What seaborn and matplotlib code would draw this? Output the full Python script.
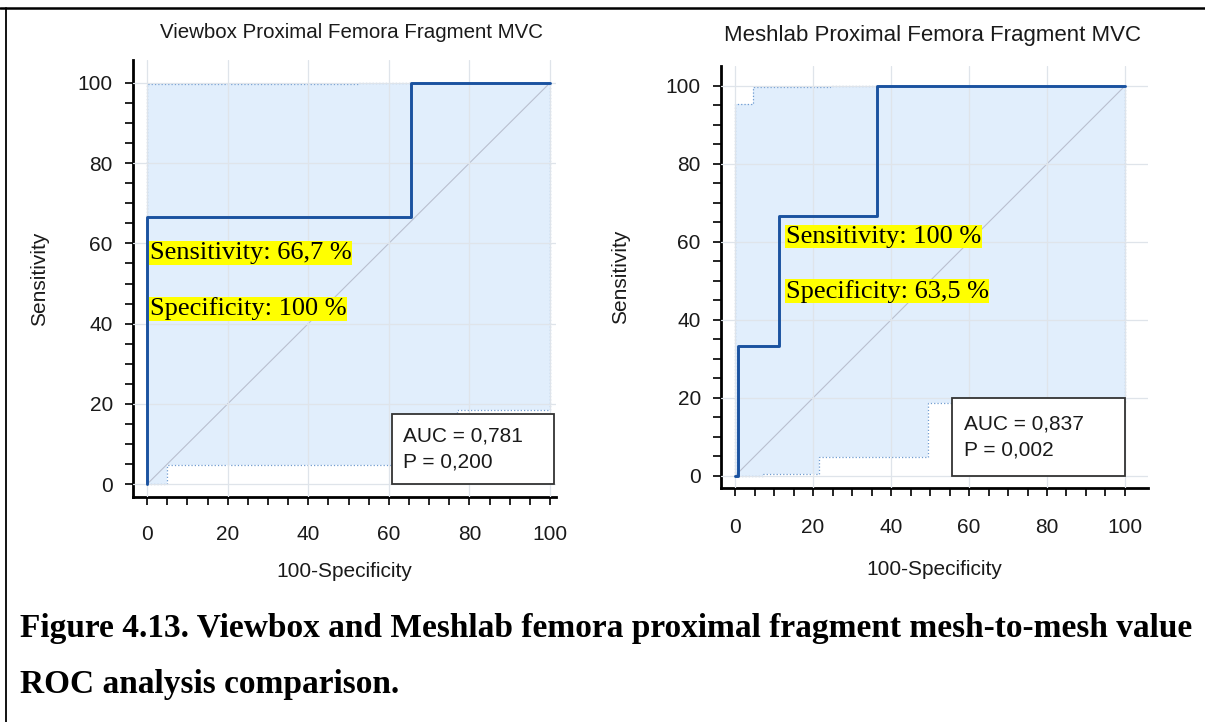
import numpy as np
import pandas as pd
import matplotlib
matplotlib.use("Agg")
import matplotlib.pyplot as plt
from matplotlib.lines import Line2D
from matplotlib.patches import Rectangle
import seaborn as sns

# ---------------- data ----------------
titles = ["Viewbox Proximal Femora Fragment MVC", "Meshlab Proximal Femora Fragment MVC"]

# Viewbox ROC curve (100-Specificity, Sensitivity)
vb_roc_x = [0, 0, 65.5, 65.5, 100]
vb_roc_y = [0, 66.7, 66.7, 100, 100]
# Viewbox confidence band
vb_up_x = [0, 0, 52.5, 52.5, 100]
vb_up_y = [0, 99.7, 99.7, 100, 100]
vb_lo_x = [0, 5, 5, 77, 77, 100, 100]
vb_lo_y = [0, 0, 4.8, 4.8, 18.5, 18.5, 100]

# Meshlab ROC curve
ml_roc_x = [0, 0.8, 0.8, 11.2, 11.2, 36.5, 36.5, 100]
ml_roc_y = [0, 0, 33.3, 33.3, 66.7, 66.7, 100, 100]
# Meshlab confidence band
ml_up_x = [0, 0, 4.6, 4.6, 24.4, 24.4, 100]
ml_up_y = [0, 95.4, 95.4, 99.6, 99.6, 100, 100]
ml_lo_x = [0, 7.2, 7.2, 21.6, 21.6, 49.4, 49.4, 100, 100]
ml_lo_y = [0, 0, 0.4, 0.4, 4.8, 4.8, 18.6, 18.6, 100]

auc_labels = ["AUC = 0,781\nP = 0,200", "AUC = 0,837\nP = 0,002"]
sens_labels = ["Sensitivity: 66,7 %", "Sensitivity: 100 %"]
spec_labels = ["Specificity: 100 %", "Specificity: 63,5 %"]
ticks = [0, 20, 40, 60, 80, 100]
caption1 = "Figure 4.13. Viewbox and Meshlab femora proximal fragment mesh-to-mesh value"
caption2 = "ROC analysis comparison."

# ---------------- style ----------------
sns.set_theme(style="white")
plt.rcParams["font.family"] = ["Liberation Sans", "DejaVu Sans"]

ROC_COL = "#1a52a0"
FILL_COL = "#dcebfc"
EDGE_COL = "#6f9bd0"
GRID_COL = "#dfe4ea"
DIAG_COL = "#b9bfcf"

fig = plt.figure(figsize=(12.05, 7.22), dpi=100)

W, H = 1205, 722
def axrect(l, r, b, t):
    return [l / W, 1 - b / H, (r - l) / W, (b - t) / H]

ax1 = fig.add_axes(axrect(133, 556, 497, 60))
ax2 = fig.add_axes(axrect(721, 1148, 488, 66))

panels = [
    dict(ax=ax1, rx=vb_roc_x, ry=vb_roc_y, ux=vb_up_x, uy=vb_up_y, lx=vb_lo_x, ly=vb_lo_y,
         xlim=(-3.5, 101.5), ylim=(-3.2, 105.7), box=(60.8, 0, 40.1, 17.6),
         sens=(0.7, 57.6), spec=(0.7, 43.7), auc=(63.5, 8.8),
         xpad=14, xlp=13, ylp=21),
    dict(ax=ax2, rx=ml_roc_x, ry=ml_roc_y, ux=ml_up_x, uy=ml_up_y, lx=ml_lo_x, ly=ml_lo_y,
         xlim=(-3.6, 105.9), ylim=(-3.1, 105.1), box=(55.6, 0, 44.4, 20.0),
         sens=(13.0, 61.3), spec=(13.0, 47.3), auc=(58.6, 10.0),
         xpad=15.5, xlp=17, ylp=26),
]

for i, p in enumerate(panels):
    ax = p["ax"]
    # confidence band polygon
    px = list(p["ux"]) + list(p["lx"])[::-1]
    py = list(p["uy"]) + list(p["ly"])[::-1]
    ax.fill(px, py, color=FILL_COL, alpha=0.85, zorder=1, lw=0)
    ax.plot(p["ux"], p["uy"], color=EDGE_COL, lw=0.9, ls=":", zorder=2)
    ax.plot(p["lx"], p["ly"], color=EDGE_COL, lw=0.9, ls=":", zorder=2)
    # diagonal
    ax.plot([0, 100], [0, 100], color=DIAG_COL, lw=0.8, zorder=2)
    # ROC curve
    df = pd.DataFrame({"x": p["rx"], "y": p["ry"]})
    sns.lineplot(data=df, x="x", y="y", sort=False, estimator=None, ax=ax,
                 color=ROC_COL, lw=2.1, zorder=4)

    ax.set_xlim(*p["xlim"])
    ax.set_ylim(*p["ylim"])
    ax.set_xticks(ticks)
    ax.set_yticks(ticks)
    ax.set_xticks(np.arange(0, 101, 5), minor=True)
    ax.set_yticks(np.arange(0, 101, 5), minor=True)
    ax.grid(True, which="major", color=GRID_COL, lw=0.9, zorder=1.5)
    ax.set_axisbelow(False)
    for s in ["top", "right"]:
        ax.spines[s].set_visible(False)
    for s in ["left", "bottom"]:
        ax.spines[s].set_color("black")
        ax.spines[s].set_linewidth(2.0)
    ax.tick_params(axis="both", which="both", direction="out", length=6, width=1.2,
                   color="black", labelsize=15, labelcolor="#1a1a1a",
                   bottom=True, left=True)
    ax.tick_params(axis="x", which="major", pad=p["xpad"])
    ax.tick_params(axis="y", which="major", pad=8.5)
    ax.set_xlabel("100-Specificity", fontsize=15, labelpad=p["xlp"], color="#1a1a1a")
    ax.set_ylabel("Sensitivity", fontsize=15, labelpad=p["ylp"], color="#1a1a1a")

    # AUC box
    bx, by, bw, bh = p["box"]
    ax.add_patch(Rectangle((bx, by), bw, bh, facecolor="white", edgecolor="#333333",
                           lw=1.3, zorder=5))
    ax.text(p["auc"][0], p["auc"][1], auc_labels[i], fontsize=15, va="center", ha="left",
            linespacing=1.45, zorder=6, color="#1a1a1a")

    # highlighted sensitivity / specificity
    for lab, pos in ((sens_labels[i], p["sens"]), (spec_labels[i], p["spec"])):
        ax.text(pos[0], pos[1], lab, fontsize=19, family=["Liberation Serif", "DejaVu Serif"],
                va="center", ha="left", zorder=7, color="black",
                bbox=dict(boxstyle="square,pad=0.02", facecolor="#ffff00", edgecolor="none"))

# titles
fig.text(352 / W, 1 - 33 / H, titles[0], ha="center", va="center", fontsize=14.8,
         family=["Liberation Sans Narrow", "Liberation Sans", "DejaVu Sans"], color="#1a1a1a")
fig.text(932 / W, 1 - 36 / H, titles[1], ha="center", va="center", fontsize=16,
         family=["Liberation Sans Narrow", "Liberation Sans", "DejaVu Sans"], color="#1a1a1a")

# caption
fig.text(20 / W, 1 - 628 / H, caption1, ha="left", va="center", fontsize=24,
         fontweight="bold", family=["Liberation Serif", "DejaVu Serif"], color="black")
fig.text(20 / W, 1 - 684 / H, caption2, ha="left", va="center", fontsize=24,
         fontweight="bold", family=["Liberation Serif", "DejaVu Serif"], color="black")

# figure frame lines
fig.add_artist(Line2D([0, 1], [1 - 8 / H, 1 - 8 / H], transform=fig.transFigure,
                      color="black", lw=1.8))
fig.add_artist(Line2D([6 / W, 6 / W], [0, 1 - 8 / H], transform=fig.transFigure,
                      color="black", lw=1.3))

fig.savefig("out.png", dpi=100)
